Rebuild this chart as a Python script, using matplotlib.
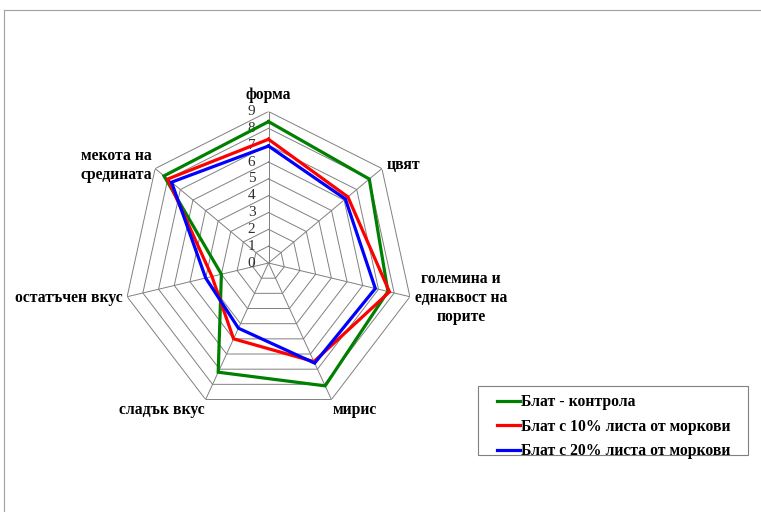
import numpy as np
import matplotlib
matplotlib.use("Agg")
import matplotlib.pyplot as plt
from matplotlib.lines import Line2D
from matplotlib.patches import Rectangle
from matplotlib import transforms

plt.rcParams['font.family'] = ['Liberation Serif', 'DejaVu Serif']


CATEGORIES = ["форма", "цвят", "големина и\nеднаквост на\nпорите", "мирис",
              "сладък вкус", "остатъчен вкус", "мекота на\nсредината"]

CONTROL = [8.4, 8.0, 7.6, 8.1, 7.2, 3.0, 8.3]
CARROT_10 = [7.35, 6.3, 7.7, 6.5, 5.0, 3.6, 8.0]
CARROT_20 = [6.95, 6.1, 6.8, 6.6, 4.3, 4.0, 7.7]

SERIES_NAMES = ["Блат - контрола", "Блат с 10% листа от моркови", "Блат с 20% листа от моркови"]
COLORS = ["#008000", "#FF0000", "#0000FF"]

LEVELS = list(range(0, 10))

# label placement: radius, ha, va
LABEL_POS = [(10.0, 'center', 'center'), (9.35, 'left', 'center'), (9.3, 'left', 'center'),
             (9.15, 'left', 'top'), (9.15, 'right', 'top'), (9.3, 'right', 'center'),
             (9.25, 'right', 'center')]


N = len(CATEGORIES)
theta = np.arange(N) * 2 * np.pi / N
theta_closed = np.append(theta, theta[0])

fig = plt.figure(figsize=(7.61, 5.12), dpi=100)
ax = fig.add_axes([0.1623, 0.1904, 0.3811, 0.5918], projection='polar')
ax.set_aspect('auto')
ax.set_theta_zero_location('N')
ax.set_theta_direction(-1)
ax.set_ylim(0, 9)
ax.grid(False)
ax.spines['polar'].set_visible(False)
ax.set_xticks([])
ax.set_yticks([])
ax.patch.set_alpha(0)

# polygon grid
for lev in LEVELS[1:]:
    ax.plot(theta_closed, [lev] * (N + 1), color="#808080", lw=0.7, zorder=1)
for t in theta:
    ax.plot([t, t], [0, 9], color="#808080", lw=0.7, zorder=1)

# radial tick labels
off = transforms.offset_copy(ax.transData, fig=fig, x=-9.5, y=0, units='points')
for lev in LEVELS:
    ax.text(0, lev, str(lev), transform=off, ha='right', va='center',
            fontsize=11, color="#303030")

data = [CONTROL, CARROT_10, CARROT_20]
for vals, name, col in zip(data, SERIES_NAMES, COLORS):
    v = np.append(vals, vals[0])
    ax.plot(theta_closed, v, color=col, lw=2.3, label=name, zorder=3,
            solid_joinstyle='miter')

for t, lab, (r, ha, va) in zip(theta, CATEGORIES, LABEL_POS):
    ax.text(t, r, lab, ha=ha, va=va, multialignment='center',
            fontsize=11.3, fontweight='bold', linespacing=1.25)

# legend box drawn separately for wider side padding
fig.add_artist(Rectangle((478 / 761, 1 - 455 / 512), 270 / 761, 69 / 512,
                         transform=fig.transFigure, fill=False,
                         edgecolor="#808080", lw=0.8))
leg = fig.legend(loc='upper left', bbox_to_anchor=(497 / 761, 1 - 394 / 512),
                 frameon=False, borderaxespad=0, borderpad=0,
                 handlelength=1.45, handletextpad=0.1,
                 labelspacing=0.55, prop={'weight': 'bold', 'size': 11.3})

# outer chart frame (partially cut off)
fig.add_artist(Line2D([4 / 761, 1], [1 - 10 / 512, 1 - 10 / 512],
                      transform=fig.transFigure, color="#a0a0a0", lw=0.8))
fig.add_artist(Line2D([4 / 761, 4 / 761], [0, 1 - 10 / 512],
                      transform=fig.transFigure, color="#a0a0a0", lw=0.8))

fig.savefig("out.png", dpi=100)
